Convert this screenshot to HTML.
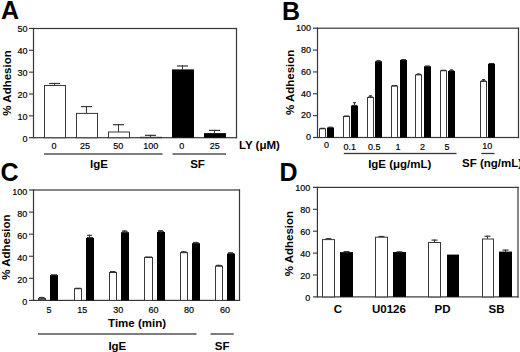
<!DOCTYPE html>
<html><head><meta charset="utf-8"><style>
html,body{margin:0;padding:0;background:#fff;}
svg{display:block;font-family:"Liberation Sans", sans-serif;}
text{fill:#000;}
</style></head><body>
<svg width="520" height="352" viewBox="0 0 520 352">
<text x="0.95" y="18.95" font-size="25" font-weight="bold">A</text>
<text x="281.95" y="19.95" font-size="25" font-weight="bold">B</text>
<text x="0.45" y="181.45" font-size="25" font-weight="bold">C</text>
<text x="279.45" y="181.45" font-size="25" font-weight="bold">D</text>
<text x="22.60" y="142.45" font-size="9" font-weight="normal" stroke="#000" stroke-width="0.18">0</text>
<text x="17.60" y="120.29" font-size="9" font-weight="normal" stroke="#000" stroke-width="0.18">10</text>
<text x="17.60" y="98.13" font-size="9" font-weight="normal" stroke="#000" stroke-width="0.18">20</text>
<text x="17.60" y="75.97" font-size="9" font-weight="normal" stroke="#000" stroke-width="0.18">30</text>
<text x="17.60" y="53.81" font-size="9" font-weight="normal" stroke="#000" stroke-width="0.18">40</text>
<text x="17.60" y="31.65" font-size="9" font-weight="normal" stroke="#000" stroke-width="0.18">50</text>
<text x="306.00" y="140.40" font-size="9" font-weight="normal" stroke="#000" stroke-width="0.18">0</text>
<text x="301.00" y="118.47" font-size="9" font-weight="normal" stroke="#000" stroke-width="0.18">20</text>
<text x="301.00" y="96.54" font-size="9" font-weight="normal" stroke="#000" stroke-width="0.18">40</text>
<text x="301.00" y="74.61" font-size="9" font-weight="normal" stroke="#000" stroke-width="0.18">60</text>
<text x="301.00" y="52.68" font-size="9" font-weight="normal" stroke="#000" stroke-width="0.18">80</text>
<text x="296.00" y="30.75" font-size="9" font-weight="normal" stroke="#000" stroke-width="0.18">100</text>
<text x="22.30" y="304.50" font-size="9" font-weight="normal" stroke="#000" stroke-width="0.18">0</text>
<text x="17.30" y="282.51" font-size="9" font-weight="normal" stroke="#000" stroke-width="0.18">20</text>
<text x="17.30" y="260.52" font-size="9" font-weight="normal" stroke="#000" stroke-width="0.18">40</text>
<text x="17.30" y="238.53" font-size="9" font-weight="normal" stroke="#000" stroke-width="0.18">60</text>
<text x="17.30" y="216.54" font-size="9" font-weight="normal" stroke="#000" stroke-width="0.18">80</text>
<text x="12.30" y="194.55" font-size="9" font-weight="normal" stroke="#000" stroke-width="0.18">100</text>
<text x="305.20" y="301.20" font-size="9" font-weight="normal" stroke="#000" stroke-width="0.18">0</text>
<text x="300.20" y="279.25" font-size="9" font-weight="normal" stroke="#000" stroke-width="0.18">20</text>
<text x="300.20" y="257.30" font-size="9" font-weight="normal" stroke="#000" stroke-width="0.18">40</text>
<text x="300.20" y="235.35" font-size="9" font-weight="normal" stroke="#000" stroke-width="0.18">60</text>
<text x="300.20" y="213.40" font-size="9" font-weight="normal" stroke="#000" stroke-width="0.18">80</text>
<text x="295.20" y="191.45" font-size="9" font-weight="normal" stroke="#000" stroke-width="0.18">100</text>
<text x="51.40" y="148.50" font-size="9" font-weight="normal" stroke="#000" stroke-width="0.18">0</text>
<text x="80.10" y="148.50" font-size="9" font-weight="normal" stroke="#000" stroke-width="0.18">25</text>
<text x="113.30" y="148.50" font-size="9" font-weight="normal" stroke="#000" stroke-width="0.18">50</text>
<text x="143.25" y="148.50" font-size="9" font-weight="normal" stroke="#000" stroke-width="0.18">100</text>
<text x="179.25" y="148.50" font-size="9" font-weight="normal" stroke="#000" stroke-width="0.18">0</text>
<text x="209.65" y="148.50" font-size="9" font-weight="normal" stroke="#000" stroke-width="0.18">25</text>
<text x="323.90" y="148.10" font-size="9" font-weight="normal" stroke="#000" stroke-width="0.18">0</text>
<text x="343.60" y="149.50" font-size="9" font-weight="normal" stroke="#000" stroke-width="0.18">0.1</text>
<text x="367.90" y="149.50" font-size="9" font-weight="normal" stroke="#000" stroke-width="0.18">0.5</text>
<text x="395.40" y="149.60" font-size="9" font-weight="normal" stroke="#000" stroke-width="0.18">1</text>
<text x="420.10" y="149.60" font-size="9" font-weight="normal" stroke="#000" stroke-width="0.18">2</text>
<text x="444.40" y="149.50" font-size="9" font-weight="normal" stroke="#000" stroke-width="0.18">5</text>
<text x="482.25" y="149.30" font-size="9" font-weight="normal" stroke="#000" stroke-width="0.18">10</text>
<text x="46.50" y="312.50" font-size="9" font-weight="normal" stroke="#000" stroke-width="0.18">5</text>
<text x="77.25" y="312.50" font-size="9" font-weight="normal" stroke="#000" stroke-width="0.18">15</text>
<text x="113.25" y="312.50" font-size="9" font-weight="normal" stroke="#000" stroke-width="0.18">30</text>
<text x="148.50" y="312.50" font-size="9" font-weight="normal" stroke="#000" stroke-width="0.18">60</text>
<text x="184.10" y="312.50" font-size="9" font-weight="normal" stroke="#000" stroke-width="0.18">80</text>
<text x="220.00" y="312.50" font-size="9" font-weight="normal" stroke="#000" stroke-width="0.18">60</text>
<text x="89.95" y="167.50" font-size="11.5" font-weight="bold">IgE</text>
<text x="190.20" y="167.50" font-size="11.5" font-weight="bold">SF</text>
<text x="238.95" y="148.60" font-size="11.5" font-weight="bold">LY (μM)</text>
<text x="368.15" y="167.50" font-size="11.5" font-weight="bold">IgE (μg/mL)</text>
<text x="462.00" y="167.40" font-size="11.5" font-weight="bold">SF (ng/mL)</text>
<text x="108.10" y="326.50" font-size="11.5" font-weight="bold">Time (min)</text>
<text x="108.40" y="349.50" font-size="11.5" font-weight="bold">IgE</text>
<text x="214.75" y="349.50" font-size="11.5" font-weight="bold">SF</text>
<text x="333.70" y="312.60" font-size="11.5" font-weight="bold">C</text>
<text x="371.95" y="312.60" font-size="11.5" font-weight="bold">U0126</text>
<text x="434.60" y="312.60" font-size="11.5" font-weight="bold">PD</text>
<text x="488.50" y="312.60" font-size="11.5" font-weight="bold">SB</text>
<text x="0" y="0" font-size="11.5" font-weight="bold" text-anchor="middle" transform="translate(10.70,82.95) rotate(-90)">% Adhesion</text>
<text x="0" y="0" font-size="11.5" font-weight="bold" text-anchor="middle" transform="translate(294.05,82.40) rotate(-90)">% Adhesion</text>
<text x="0" y="0" font-size="11.5" font-weight="bold" text-anchor="middle" transform="translate(10.20,247.10) rotate(-90)">% Adhesion</text>
<text x="0" y="0" font-size="11.5" font-weight="bold" text-anchor="middle" transform="translate(293.05,243.60) rotate(-90)">% Adhesion</text>
<rect x="33.0" y="27.90" width="204.1" height="1.2" fill="#383838"/>
<rect x="29" y="137.10" width="208.1" height="1.2" fill="#383838"/>
<rect x="32.90" y="27.9" width="1.2" height="110.39999999999998" fill="#383838"/>
<rect x="235.90" y="27.9" width="1.2" height="110.39999999999998" fill="#383838"/>
<rect x="29" y="115.30" width="4.5" height="1.1" fill="#383838"/>
<rect x="29" y="93.45" width="4.5" height="1.1" fill="#383838"/>
<rect x="29" y="71.60" width="4.5" height="1.1" fill="#383838"/>
<rect x="29" y="49.75" width="4.5" height="1.1" fill="#383838"/>
<rect x="29" y="27.85" width="4.5" height="1.2" fill="#383838"/>
<rect x="44.5" y="85.50" width="21" height="52.20" fill="#fff" stroke="#383838" stroke-width="1"/>
<rect x="54.00" y="82.9" width="1" height="2.5999999999999943" fill="#383838"/>
<rect x="49.0" y="82.90" width="11.0" height="1.2" fill="#383838"/>
<rect x="76.5" y="113.40" width="21" height="24.30" fill="#fff" stroke="#383838" stroke-width="1"/>
<rect x="86.00" y="106" width="1" height="7.400000000000006" fill="#383838"/>
<rect x="81.0" y="106.00" width="11.0" height="1.2" fill="#383838"/>
<rect x="108.5" y="132.00" width="21" height="5.70" fill="#fff" stroke="#383838" stroke-width="1"/>
<rect x="118.00" y="124.1" width="1" height="7.900000000000006" fill="#383838"/>
<rect x="113.0" y="124.10" width="11.0" height="1.2" fill="#383838"/>
<rect x="140.5" y="137.30" width="21" height="0.40" fill="#fff" stroke="#383838" stroke-width="1"/>
<rect x="150.00" y="134.75" width="1" height="2.5500000000000114" fill="#383838"/>
<rect x="145.0" y="134.75" width="11.0" height="1.2" fill="#383838"/>
<rect x="172" y="69.40" width="22" height="68.30" fill="#000"/>
<rect x="182.00" y="65.4" width="1" height="4.5" fill="#383838"/>
<rect x="177.0" y="65.40" width="11.0" height="1.2" fill="#383838"/>
<rect x="204" y="133.10" width="22" height="4.60" fill="#000"/>
<rect x="214.00" y="129.8" width="1" height="3.799999999999983" fill="#383838"/>
<rect x="209.0" y="129.80" width="11.0" height="1.2" fill="#383838"/>
<rect x="44" y="153.35" width="118.5" height="1.3" fill="#383838"/>
<rect x="172.5" y="153.35" width="53.5" height="1.3" fill="#383838"/>
<rect x="317.0" y="27.60" width="202.10000000000002" height="1.2" fill="#383838"/>
<rect x="313" y="136.90" width="206.10000000000002" height="1.2" fill="#383838"/>
<rect x="316.90" y="27.599999999999998" width="1.2" height="110.5" fill="#383838"/>
<rect x="517.90" y="27.599999999999998" width="1.2" height="110.5" fill="#383838"/>
<rect x="313" y="115.09" width="4.5" height="1.1" fill="#383838"/>
<rect x="313" y="93.23" width="4.5" height="1.1" fill="#383838"/>
<rect x="313" y="71.37" width="4.5" height="1.1" fill="#383838"/>
<rect x="313" y="49.51" width="4.5" height="1.1" fill="#383838"/>
<rect x="313" y="27.60" width="4.5" height="1.2" fill="#383838"/>
<rect x="319.5" y="128.80" width="6" height="8.70" fill="#fff" stroke="#383838" stroke-width="1"/>
<rect x="320" y="127.80" width="5" height="1" fill="#222"/>
<rect x="327" y="127.50" width="7" height="10.00" fill="#000"/>
<rect x="328" y="126.80" width="5" height="0.8" fill="#000"/>
<rect x="330.00" y="126.8" width="1" height="1.2000000000000028" fill="#383838"/>
<rect x="329.0" y="126.80" width="3.0" height="1.2" fill="#383838"/>
<rect x="343.5" y="116.50" width="6" height="21.00" fill="#fff" stroke="#383838" stroke-width="1"/>
<rect x="344" y="115.50" width="5" height="1" fill="#222"/>
<rect x="351" y="105.60" width="7" height="31.90" fill="#000"/>
<rect x="352" y="104.90" width="5" height="0.8" fill="#000"/>
<rect x="354.00" y="102.1" width="1" height="4.0" fill="#383838"/>
<rect x="353.0" y="102.10" width="3.0" height="1.2" fill="#383838"/>
<rect x="367.5" y="97.50" width="6" height="40.00" fill="#fff" stroke="#383838" stroke-width="1"/>
<rect x="368" y="96.50" width="5" height="1" fill="#222"/>
<rect x="370.00" y="95.25" width="1" height="2.25" fill="#383838"/>
<rect x="369.0" y="95.25" width="3.0" height="1.2" fill="#383838"/>
<rect x="375" y="61.25" width="7" height="76.25" fill="#000"/>
<rect x="376" y="60.55" width="5" height="0.8" fill="#000"/>
<rect x="378.00" y="60" width="1" height="1.75" fill="#383838"/>
<rect x="377.0" y="60.00" width="3.0" height="1.2" fill="#383838"/>
<rect x="391.5" y="86.10" width="6" height="51.40" fill="#fff" stroke="#383838" stroke-width="1"/>
<rect x="392" y="85.10" width="5" height="1" fill="#222"/>
<rect x="400" y="60.00" width="7" height="77.50" fill="#000"/>
<rect x="401" y="59.30" width="5" height="0.8" fill="#000"/>
<rect x="403.00" y="59" width="1" height="1.5" fill="#383838"/>
<rect x="402.0" y="59.00" width="3.0" height="1.2" fill="#383838"/>
<rect x="415.5" y="74.90" width="6" height="62.60" fill="#fff" stroke="#383838" stroke-width="1"/>
<rect x="416" y="73.90" width="5" height="1" fill="#222"/>
<rect x="418.00" y="73.5" width="1" height="1.4000000000000057" fill="#383838"/>
<rect x="417.0" y="73.50" width="3.0" height="1.2" fill="#383838"/>
<rect x="424" y="66.25" width="7" height="71.25" fill="#000"/>
<rect x="425" y="65.55" width="5" height="0.8" fill="#000"/>
<rect x="440.5" y="70.75" width="6" height="66.75" fill="#fff" stroke="#383838" stroke-width="1"/>
<rect x="441" y="69.75" width="5" height="1" fill="#222"/>
<rect x="448" y="71.00" width="7" height="66.50" fill="#000"/>
<rect x="449" y="70.30" width="5" height="0.8" fill="#000"/>
<rect x="451.00" y="69.4" width="1" height="2.0999999999999943" fill="#383838"/>
<rect x="450.0" y="69.40" width="3.0" height="1.2" fill="#383838"/>
<rect x="480.5" y="81.40" width="6" height="56.10" fill="#fff" stroke="#383838" stroke-width="1"/>
<rect x="481" y="80.40" width="5" height="1" fill="#222"/>
<rect x="483.00" y="79" width="1" height="2.4000000000000057" fill="#383838"/>
<rect x="482.0" y="79.00" width="3.0" height="1.2" fill="#383838"/>
<rect x="488" y="63.75" width="7" height="73.75" fill="#000"/>
<rect x="489" y="63.05" width="5" height="0.8" fill="#000"/>
<rect x="343.75" y="152.85" width="112.75" height="1.3" fill="#383838"/>
<rect x="481.25" y="152.85" width="13.25" height="1.3" fill="#383838"/>
<rect x="33.0" y="189.40" width="207.1" height="1.2" fill="#383838"/>
<rect x="29" y="299.80" width="211.1" height="1.2" fill="#383838"/>
<rect x="32.90" y="189.4" width="1.2" height="111.6" fill="#383838"/>
<rect x="238.90" y="189.4" width="1.2" height="111.6" fill="#383838"/>
<rect x="29" y="277.77" width="4.5" height="1.1" fill="#383838"/>
<rect x="29" y="255.69" width="4.5" height="1.1" fill="#383838"/>
<rect x="29" y="233.61" width="4.5" height="1.1" fill="#383838"/>
<rect x="29" y="211.53" width="4.5" height="1.1" fill="#383838"/>
<rect x="29" y="189.40" width="4.5" height="1.2" fill="#383838"/>
<rect x="38.5" y="298.50" width="7" height="1.90" fill="#fff" stroke="#383838" stroke-width="1"/>
<rect x="39" y="297.50" width="6" height="1" fill="#222"/>
<rect x="41.00" y="296.9" width="1" height="1.6000000000000227" fill="#383838"/>
<rect x="39.0" y="296.90" width="5.0" height="1.2" fill="#383838"/>
<rect x="50" y="275.10" width="8" height="25.30" fill="#000"/>
<rect x="51" y="274.40" width="6" height="0.8" fill="#000"/>
<rect x="74.5" y="288.75" width="7" height="11.65" fill="#fff" stroke="#383838" stroke-width="1"/>
<rect x="75" y="287.75" width="6" height="1" fill="#222"/>
<rect x="86" y="237.90" width="8" height="62.50" fill="#000"/>
<rect x="87" y="237.20" width="6" height="0.8" fill="#000"/>
<rect x="89.00" y="234.75" width="1" height="3.6500000000000057" fill="#383838"/>
<rect x="87.0" y="234.75" width="5.0" height="1.2" fill="#383838"/>
<rect x="109.5" y="272.50" width="7" height="27.90" fill="#fff" stroke="#383838" stroke-width="1"/>
<rect x="110" y="271.50" width="6" height="1" fill="#222"/>
<rect x="112.00" y="271" width="1" height="1.5" fill="#383838"/>
<rect x="110.0" y="271.00" width="5.0" height="1.2" fill="#383838"/>
<rect x="121" y="232.25" width="8" height="68.15" fill="#000"/>
<rect x="122" y="231.55" width="6" height="0.8" fill="#000"/>
<rect x="124.00" y="230.4" width="1" height="2.3499999999999943" fill="#383838"/>
<rect x="122.0" y="230.40" width="5.0" height="1.2" fill="#383838"/>
<rect x="144.5" y="257.50" width="8" height="42.90" fill="#fff" stroke="#383838" stroke-width="1"/>
<rect x="145" y="256.50" width="7" height="1" fill="#222"/>
<rect x="157" y="232.00" width="8" height="68.40" fill="#000"/>
<rect x="158" y="231.30" width="6" height="0.8" fill="#000"/>
<rect x="160.00" y="230.1" width="1" height="2.4000000000000057" fill="#383838"/>
<rect x="158.0" y="230.10" width="5.0" height="1.2" fill="#383838"/>
<rect x="180.5" y="252.70" width="7" height="47.70" fill="#fff" stroke="#383838" stroke-width="1"/>
<rect x="181" y="251.70" width="6" height="1" fill="#222"/>
<rect x="183.00" y="251.3" width="1" height="1.3999999999999773" fill="#383838"/>
<rect x="181.0" y="251.30" width="5.0" height="1.2" fill="#383838"/>
<rect x="192" y="243.20" width="8" height="57.20" fill="#000"/>
<rect x="193" y="242.50" width="6" height="0.8" fill="#000"/>
<rect x="195.00" y="241.9" width="1" height="1.799999999999983" fill="#383838"/>
<rect x="193.0" y="241.90" width="5.0" height="1.2" fill="#383838"/>
<rect x="215.5" y="266.20" width="7" height="34.20" fill="#fff" stroke="#383838" stroke-width="1"/>
<rect x="216" y="265.20" width="6" height="1" fill="#222"/>
<rect x="218.00" y="264.8" width="1" height="1.3999999999999773" fill="#383838"/>
<rect x="216.0" y="264.80" width="5.0" height="1.2" fill="#383838"/>
<rect x="227" y="253.60" width="8" height="46.80" fill="#000"/>
<rect x="228" y="252.90" width="6" height="0.8" fill="#000"/>
<rect x="230.00" y="252.2" width="1" height="1.9000000000000057" fill="#383838"/>
<rect x="228.0" y="252.20" width="5.0" height="1.2" fill="#383838"/>
<rect x="39" y="298.3" width="6" height="1.7" fill="#555"/>
<rect x="38" y="333.35" width="158.5" height="1.3" fill="#383838"/>
<rect x="210.5" y="333.35" width="23.30000000000001" height="1.3" fill="#383838"/>
<rect x="316.9" y="186.80" width="201.70000000000005" height="1.2" fill="#383838"/>
<rect x="313" y="296.30" width="205.60000000000002" height="1.2" fill="#383838"/>
<rect x="316.80" y="186.8" width="1.2" height="110.69999999999999" fill="#383838"/>
<rect x="517.40" y="186.8" width="1.2" height="110.69999999999999" fill="#383838"/>
<rect x="313" y="274.45" width="4.399999999999977" height="1.1" fill="#383838"/>
<rect x="313" y="252.55" width="4.399999999999977" height="1.1" fill="#383838"/>
<rect x="313" y="230.65" width="4.399999999999977" height="1.1" fill="#383838"/>
<rect x="313" y="208.75" width="4.399999999999977" height="1.1" fill="#383838"/>
<rect x="313" y="186.80" width="4.399999999999977" height="1.2" fill="#383838"/>
<rect x="322.5" y="239.60" width="12" height="57.30" fill="#fff" stroke="#383838" stroke-width="1"/>
<rect x="328.00" y="238.1" width="1" height="1.5" fill="#383838"/>
<rect x="325.5" y="238.10" width="6.0" height="1.2" fill="#383838"/>
<rect x="340" y="252.10" width="13" height="44.80" fill="#000"/>
<rect x="346.00" y="251" width="1" height="1.5999999999999943" fill="#383838"/>
<rect x="343.5" y="251.00" width="6.0" height="1.2" fill="#383838"/>
<rect x="375.5" y="237.20" width="12" height="59.70" fill="#fff" stroke="#383838" stroke-width="1"/>
<rect x="381.00" y="235.9" width="1" height="1.299999999999983" fill="#383838"/>
<rect x="378.5" y="235.90" width="6.0" height="1.2" fill="#383838"/>
<rect x="393" y="252.00" width="13" height="44.90" fill="#000"/>
<rect x="399.00" y="251.2" width="1" height="1.3000000000000114" fill="#383838"/>
<rect x="396.5" y="251.20" width="6.0" height="1.2" fill="#383838"/>
<rect x="428.5" y="242.50" width="12" height="54.40" fill="#fff" stroke="#383838" stroke-width="1"/>
<rect x="434.00" y="239.5" width="1" height="3.0" fill="#383838"/>
<rect x="431.5" y="239.50" width="6.0" height="1.2" fill="#383838"/>
<rect x="447" y="254.60" width="12" height="42.30" fill="#000"/>
<rect x="482.5" y="239.00" width="11" height="57.90" fill="#fff" stroke="#383838" stroke-width="1"/>
<rect x="487.00" y="235.65" width="1" height="3.3499999999999943" fill="#383838"/>
<rect x="484.5" y="235.65" width="6.0" height="1.2" fill="#383838"/>
<rect x="499" y="251.60" width="13" height="45.30" fill="#000"/>
<rect x="505.00" y="249.5" width="1" height="2.5999999999999943" fill="#383838"/>
<rect x="502.5" y="249.50" width="6.0" height="1.2" fill="#383838"/>
</svg>
</body></html>
